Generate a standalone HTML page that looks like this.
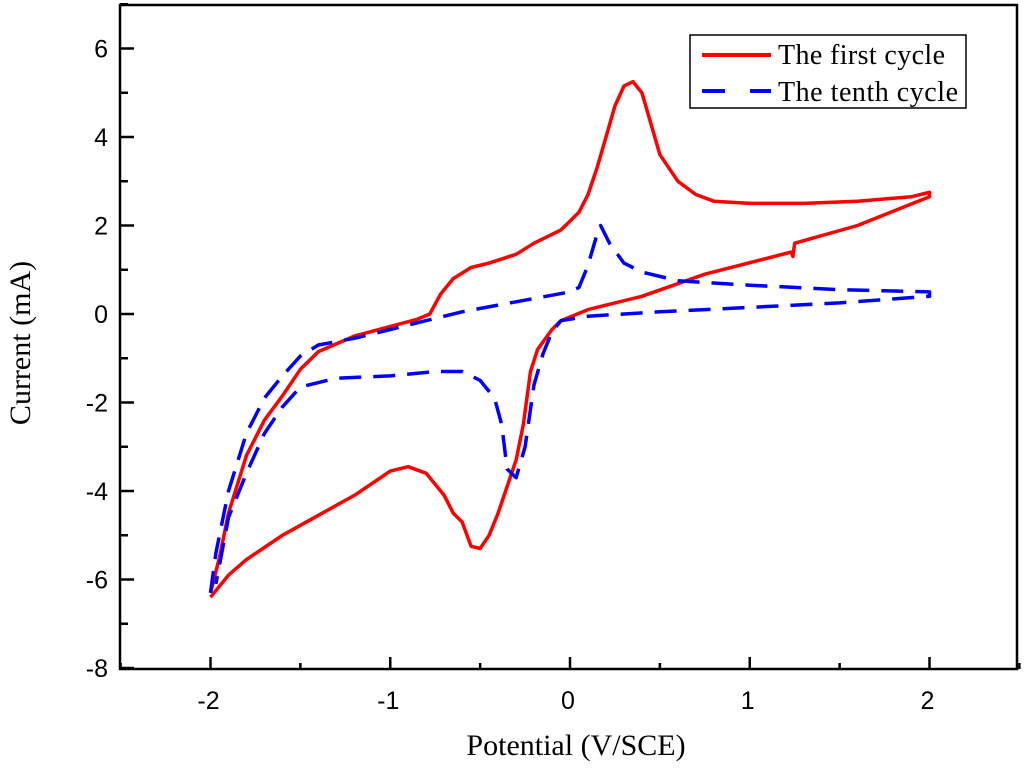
<!DOCTYPE html>
<html><head><meta charset="utf-8"><style>
html,body{margin:0;padding:0;background:#fff;}
svg{display:block;}
</style></head><body>
<svg id="chart" width="1024" height="770" xmlns="http://www.w3.org/2000/svg">
<rect x="120" y="5" width="897" height="664" fill="none" stroke="#000" stroke-width="2.5"/>
<g id="ticks"></g>
<g id="series"></g>
<g>
<rect x="690" y="35" width="276" height="73" fill="#fff" stroke="#000" stroke-width="1.5"/>
<line x1="702" y1="55" x2="771" y2="55" stroke="#ff0000" stroke-width="4"/>
<text x="778" y="64" textLength="167" font-family="Liberation Serif, serif" font-size="28">The first cycle</text>
<line x1="702" y1="91" x2="771" y2="91" stroke="#0000ff" stroke-width="4" stroke-dasharray="23,25"/>
<text x="778" y="101" textLength="180" font-family="Liberation Serif, serif" font-size="28">The tenth cycle</text>
</g>
<text x="576" y="755" text-anchor="middle" font-family="Liberation Serif, serif" font-size="30">Potential (V/SCE)</text>
<text transform="translate(30,343) rotate(-90)" text-anchor="middle" font-family="Liberation Serif, serif" font-size="30">Current (mA)</text>
</svg>
<script>
const xTicks=[-2,-1,0,1,2];
const yTicks=[6,4,2,0,-2,-4,-6,-8];
const firstX=[-2,-1.95,-1.9,-1.8,-1.7,-1.6,-1.5,-1.4,-1.2,-1.0,-0.85,-0.78,-0.72,-0.65,-0.55,-0.45,-0.3,-0.2,-0.05,0.05,0.1,0.15,0.2,0.25,0.3,0.35,0.4,0.45,0.5,0.6,0.7,0.8,1.0,1.3,1.6,1.9,2.0,
2.0,1.6,1.25,1.24,1.23,0.75,0.4,0.1,-0.05,-0.1,-0.18,-0.22,-0.26,-0.3,-0.35,-0.4,-0.45,-0.5,-0.55,-0.6,-0.65,-0.7,-0.8,-0.9,-1.0,-1.2,-1.4,-1.6,-1.8,-1.9,-2.0];
const firstY=[-6.3,-5.5,-4.5,-3.2,-2.4,-1.85,-1.25,-0.85,-0.5,-0.28,-0.12,0.0,0.45,0.8,1.05,1.15,1.35,1.6,1.9,2.3,2.7,3.3,4.0,4.7,5.15,5.25,5.0,4.3,3.6,3.0,2.7,2.55,2.5,2.5,2.55,2.65,2.75,
2.65,2.0,1.6,1.3,1.4,0.9,0.4,0.1,-0.15,-0.35,-0.8,-1.3,-2.5,-3.3,-3.9,-4.5,-5.0,-5.3,-5.25,-4.7,-4.5,-4.1,-3.6,-3.45,-3.55,-4.1,-4.55,-5.0,-5.55,-5.9,-6.4];
const tenthX=[-2,-1.97,-1.9,-1.8,-1.7,-1.6,-1.5,-1.4,-1.2,-1.0,-0.8,-0.6,-0.4,-0.2,0.0,0.05,0.1,0.15,0.17,0.22,0.3,0.4,0.6,1.0,1.5,2.0,
2.0,1.5,1.0,0.5,0.1,-0.05,-0.1,-0.15,-0.2,-0.25,-0.3,-0.35,-0.38,-0.42,-0.5,-0.6,-0.75,-1.0,-1.3,-1.5,-1.6,-1.7,-1.8,-1.9,-1.97];
const tenthY=[-6.3,-5.4,-4.0,-2.7,-1.9,-1.4,-0.95,-0.7,-0.55,-0.35,-0.15,0.05,0.2,0.35,0.5,0.6,1.1,1.8,2.0,1.6,1.15,0.95,0.75,0.65,0.55,0.5,
0.4,0.25,0.15,0.05,-0.05,-0.15,-0.4,-0.9,-1.6,-3.0,-3.7,-3.5,-2.5,-1.9,-1.5,-1.3,-1.3,-1.4,-1.45,-1.65,-2.1,-2.7,-3.6,-4.6,-6.1];
const NS="http://www.w3.org/2000/svg";
const sx=v=>570+v*179.75;
const sy=v=>314-v*44.25;
const tg=document.getElementById('ticks');
function mk(tag,attrs,parent){const e=document.createElementNS(NS,tag);for(const k in attrs)e.setAttribute(k,attrs[k]);parent.appendChild(e);return e;}
for(let v=-2.5;v<=2.51;v+=0.5){
  const major=Math.abs(v-Math.round(v))<1e-6;
  const l=mk('line',{x1:sx(v),x2:sx(v),y1:669,y2:major?657:663,stroke:'#000','stroke-width':2.5},tg);
  
  
}
for(let v=-8;v<=7;v+=1){
  const major=v%2===0;
  const l=mk('line',{x1:120,x2:major?134:128,y1:sy(v),y2:sy(v),stroke:'#000','stroke-width':2.5},tg);
  
  
}
xTicks.forEach(v=>{
  const t=mk('text',{x:sx(v)-2,y:709,'text-anchor':'middle','font-family':'Liberation Sans, sans-serif','font-size':25},tg);
  t.textContent=String(v);
  
  
});
yTicks.forEach(v=>{
  const t=mk('text',{x:108,y:sy(v)+9,'text-anchor':'end','font-family':'Liberation Sans, sans-serif','font-size':25},tg);
  t.textContent=String(v);
  
  
});
const sg=document.getElementById('series');
function path(xs,ys){return xs.map((x,i)=>(i?'L':'M')+sx(x).toFixed(1)+','+sy(ys[i]).toFixed(1)).join(' ');}
const p1=mk('path',{d:path(firstX,firstY),fill:'none',stroke:'#ff0000','stroke-width':3.5,'stroke-linejoin':'round'},sg);


const p2=mk('path',{d:path(tenthX,tenthY),fill:'none',stroke:'#0000ff','stroke-width':3.5,'stroke-dasharray':'22,12','stroke-linejoin':'round'},sg);


</script>
</body></html>
